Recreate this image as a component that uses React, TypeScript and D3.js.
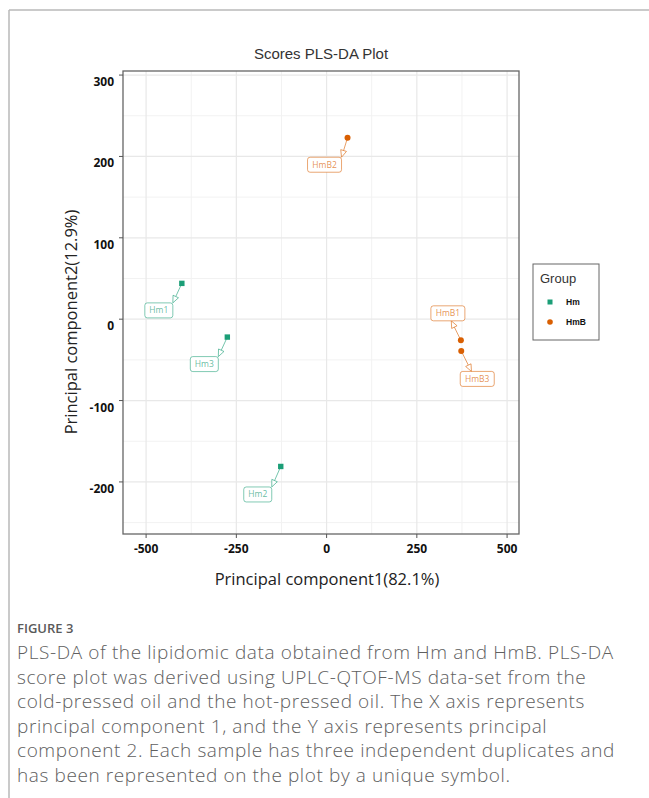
import React from "react";
import * as d3 from "d3";

// Sample scores on the first two PLS-DA components
const sampleNames = ["Hm1", "Hm2", "Hm3", "HmB1", "HmB2", "HmB3"];
const sampleGroups = ["Hm", "Hm", "Hm", "HmB", "HmB", "HmB"];
const pc1Scores = [-401, -127, -275, 372, 58, 373];
const pc2Scores = [44, -181, -22, -26, 223, -39];

const groupNames = ["Hm", "HmB"];
const groupColors = ["#1b9e77", "#d95f02"];

const xTicks = [-500, -250, 0, 250, 500];
const yTicks = [-200, -100, 0, 100, 200, 300];
const xMinor = [-375, -125, 125, 375];
const yMinor = [-250, -150, -50, 50, 150, 250];

// Repelled label placement: box centre offset from its point (px) and
// where along the facing box edge the arrow lands (0 = left, 1 = right)
const labelDx = [-23, -23, -23, -13, -23, 16];
const labelDy = [27, 28, 27, -27, 27, 28];
const labelTip = [1, 1, 1, 0.6, 1, 0.33];

const captionTitle = "FIGURE 3";
const captionLines = [
  "PLS-DA of the lipidomic data obtained from Hm and HmB. PLS-DA",
  "score plot was derived using UPLC-QTOF-MS data-set from the",
  "cold-pressed oil and the hot-pressed oil. The X axis represents",
  "principal component 1, and the Y axis represents principal",
  "component 2. Each sample has three independent duplicates and",
  "has been represented on the plot by a unique symbol.",
];

const W = 649;
const H = 798;
const panel = { left: 123, right: 519, top: 71, bottom: 534 };

export default function App() {
  const x = d3.scaleLinear().domain([-564, 533]).range([panel.left, panel.right]);
  const y = d3.scaleLinear().domain([-264, 305]).range([panel.bottom, panel.top]);
  const color = d3.scaleOrdinal<string, string>().domain(groupNames).range(groupColors);

  const sansB = "'Open Sans', 'Noto Sans', sans-serif";
  const arial = "'Liberation Sans', Arial, sans-serif";

  const labels = sampleNames.map((name, i) => {
    const px = x(pc1Scores[i]);
    const py = y(pc2Scores[i]);
    const w = name.length > 3 ? 34 : 28;
    const h = 15;
    const cx = px + labelDx[i];
    const cy = py + labelDy[i];
    const bx = cx - w / 2;
    const by = cy - h / 2;
    const edgeY = labelDy[i] > 0 ? by : by + h;
    const tx = bx + labelTip[i] * w;
    const ty = edgeY;
    const ang = Math.atan2(ty - py, tx - px);
    const len = 7;
    const half = 3;
    const baseX = tx - len * Math.cos(ang);
    const baseY = ty - len * Math.sin(ang);
    const nx = -Math.sin(ang);
    const ny = Math.cos(ang);
    const head = d3.line()([
      [tx, ty],
      [baseX + nx * half, baseY + ny * half],
      [baseX - nx * half, baseY - ny * half],
    ]) + "Z";
    return { name, px, py, w, h, bx, by, cx, cy, tx, ty, baseX, baseY, head, c: color(sampleGroups[i]) };
  });

  return (
    <svg width={W} height={H} style={{ display: "block", position: "absolute", left: 0, top: 0 }}>
      <rect x={0} y={0} width={W} height={H} fill="#fff" />
      {/* page frame */}
      <line x1={9} x2={W} y1={10} y2={10} stroke="#b8b8b8" strokeWidth={1.5} />
      <line x1={9} x2={9} y1={10} y2={H} stroke="#b8b8b8" strokeWidth={1.5} />

      {/* grid */}
      {xMinor.map((v) => (
        <line key={"xm" + v} x1={x(v)} x2={x(v)} y1={panel.top} y2={panel.bottom} stroke="#f2f2f2" strokeWidth={1} />
      ))}
      {yMinor.map((v) => (
        <line key={"ym" + v} y1={y(v)} y2={y(v)} x1={panel.left} x2={panel.right} stroke="#f2f2f2" strokeWidth={1} />
      ))}
      {xTicks.map((v) => (
        <line key={"xg" + v} x1={x(v)} x2={x(v)} y1={panel.top} y2={panel.bottom} stroke="#e8e8e8" strokeWidth={1.2} />
      ))}
      {yTicks.map((v) => (
        <line key={"yg" + v} y1={y(v)} y2={y(v)} x1={panel.left} x2={panel.right} stroke="#e8e8e8" strokeWidth={1.2} />
      ))}

      {/* panel border */}
      <rect
        x={panel.left}
        y={panel.top}
        width={panel.right - panel.left}
        height={panel.bottom - panel.top}
        fill="none"
        stroke="#666"
        strokeWidth={1.3}
      />

      {/* axis ticks and tick labels */}
      {xTicks.map((v) => (
        <g key={"xt" + v}>
          <line x1={x(v)} x2={x(v)} y1={panel.bottom} y2={panel.bottom + 4} stroke="#555" />
          <text x={x(v)} y={553} textAnchor="middle" fontFamily={sansB} fontWeight={700} fontSize={12} fill="#111">
            {v}
          </text>
        </g>
      ))}
      {yTicks.map((v) => (
        <g key={"yt" + v}>
          <line x1={panel.left - 4} x2={panel.left} y1={y(v)} y2={y(v)} stroke="#555" />
          <text x={114} y={y(v) + 11} textAnchor="end" fontFamily={sansB} fontWeight={700} fontSize={12} fill="#111">
            {v}
          </text>
        </g>
      ))}

      {/* titles */}
      <text x={(panel.left + panel.right) / 2} y={59} textAnchor="middle" fontFamily={arial} fontSize={15} fill="#333">
        Scores PLS-DA Plot
      </text>
      <text x={327} y={585} textAnchor="middle" fontFamily={sansB} fontSize={16.5} fill="#222">
        Principal component1(82.1%)
      </text>
      <text
        transform={`translate(77,${322}) rotate(-90)`}
        textAnchor="middle"
        fontFamily={sansB}
        fontSize={16.5}
        fill="#222"
      >
        Principal component2(12.9%)
      </text>

      {/* label arrows and boxes */}
      {labels.map((l) => (
        <g key={"lab" + l.name}>
          <line x1={l.px} y1={l.py} x2={l.baseX} y2={l.baseY} stroke={l.c} strokeOpacity={0.6} strokeWidth={1} />
          <path d={l.head} fill="#fff" stroke={l.c} strokeOpacity={0.6} strokeWidth={1} />
          <rect x={l.bx} y={l.by} width={l.w} height={l.h} rx={2.5} fill="#fff" stroke={l.c} strokeOpacity={0.55} strokeWidth={1} />
          <text x={l.cx} y={l.cy + 3} textAnchor="middle" fontFamily={sansB} fontSize={8.5} fill={l.c} fillOpacity={0.7}>
            {l.name}
          </text>
        </g>
      ))}

      {/* points */}
      {sampleNames.map((name, i) => {
        const px = x(pc1Scores[i]);
        const py = y(pc2Scores[i]);
        const c = color(sampleGroups[i]);
        return sampleGroups[i] === "Hm" ? (
          <rect key={"pt" + name} x={px - 2.7} y={py - 2.7} width={5.4} height={5.4} fill={c} />
        ) : (
          <circle key={"pt" + name} cx={px} cy={py} r={3} fill={c} />
        );
      })}

      {/* legend */}
      <rect x={533} y={264} width={66} height={76} fill="#fff" stroke="#666" strokeWidth={1} />
      <text x={540} y={283} fontFamily={arial} fontSize={13} fill="#333">
        Group
      </text>
      {groupNames.map((g, i) => {
        const ly = 302 + i * 20;
        return (
          <g key={"lg" + g}>
            {g === "Hm" ? (
              <rect x={547.5} y={ly - 2.5} width={5} height={5} fill={groupColors[i]} />
            ) : (
              <circle cx={550} cy={ly} r={2.8} fill={groupColors[i]} />
            )}
            <text x={566} y={ly + 3} fontFamily={arial} fontWeight={700} fontSize={8.5} fill="#111">
              {g}
            </text>
          </g>
        );
      })}

      {/* caption */}
      <text x={17} y={633} fontFamily={sansB} fontWeight={600} fontSize={13} fill="#5a5a5a">
        {captionTitle}
      </text>
      {captionLines.map((t, i) => (
        <text
          key={"cap" + i}
          x={17}
          y={659 + i * 24.6}
          fontFamily={sansB}
          fontWeight={300}
          fontSize={19}
          letterSpacing={0.6}
          fill="#606060"
        >
          {t}
        </text>
      ))}
    </svg>
  );
}
